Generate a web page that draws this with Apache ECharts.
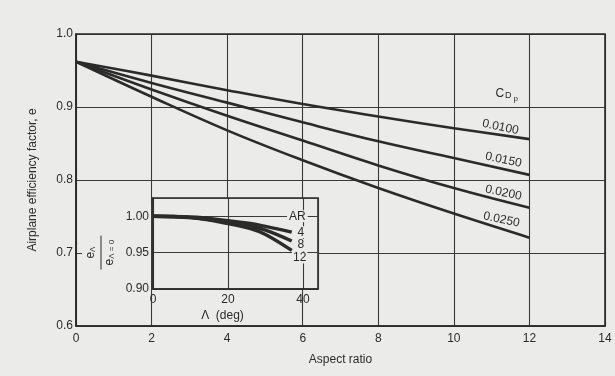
<!DOCTYPE html>
<html>
<head>
<meta charset="utf-8">
<script src="https://cdn.jsdelivr.net/npm/echarts@6/dist/echarts.min.js"></script>
<style>
  html, body { margin: 0; padding: 0; background: #ebebea; }
  #chart { width: 615px; height: 376px; }
</style>
</head>
<body>
<div id="chart"></div>
<script>
// main chart: efficiency factor vs aspect ratio, one line per CDp
const aspectRatio = [0, 2, 4, 6, 8, 10, 12];
const cdpNames = ['0.0100', '0.0150', '0.0200', '0.0250'];
const e0100 = [0.962, 0.943, 0.923, 0.904, 0.887, 0.871, 0.856];
const e0150 = [0.962, 0.933, 0.906, 0.879, 0.853, 0.830, 0.807];
const e0200 = [0.962, 0.924, 0.888, 0.854, 0.820, 0.789, 0.762];
const e0250 = [0.962, 0.914, 0.868, 0.827, 0.789, 0.754, 0.721];

// inset: e(sweep)/e(sweep=0) vs sweep angle, one curve per AR
const sweepDeg = [0, 10, 20, 26, 30, 37];
const arNames = ['4', '8', '12'];
const ratioAR4 = [1.000, 0.999, 0.994, 0.990, 0.986, 0.978];
const ratioAR8 = [1.000, 0.998, 0.992, 0.986, 0.981, 0.966];
const ratioAR12 = [1.000, 0.998, 0.990, 0.983, 0.975, 0.953];
const insetYLabels = ['0.90', '0.95', '1.00'];

const ink = '#2b2b2b';
const bg = '#ebebea';
const font = 'Liberation Sans';

function pairs(xs, ys) {
  return xs.map((x, i) => [x, ys[i]]);
}

const chart = echarts.init(document.getElementById('chart'));

const mainSeries = [e0100, e0150, e0200, e0250].map((ys, i) => ({
  name: cdpNames[i],
  type: 'line',
  xAxisIndex: 0,
  yAxisIndex: 0,
  showSymbol: false,
  smooth: 0.4,
  z: 3,
  lineStyle: { color: ink, width: 2.6 },
  data: pairs(aspectRatio, ys)
}));

const insetSeries = [ratioAR4, ratioAR8, ratioAR12].map((ys, i) => ({
  name: 'AR ' + arNames[i],
  type: 'line',
  xAxisIndex: 1,
  yAxisIndex: 1,
  showSymbol: false,
  smooth: 0.4,
  z: 12,
  lineStyle: { color: ink, width: 3.4 },
  data: pairs(sweepDeg, ys)
}));

chart.setOption({
  backgroundColor: bg,
  animation: false,
  textStyle: { fontFamily: font, color: ink },
  grid: [
    { left: 76, right: 10, top: 34, bottom: 50, show: true, borderColor: ink, borderWidth: 1.6, z: 1 },
    { left: 153, right: 297, top: 198, bottom: 87, show: true, backgroundColor: bg, borderColor: ink, borderWidth: 1.6, z: 10 }
  ],
  xAxis: [
    {
      gridIndex: 0, type: 'value', min: 0, max: 14, interval: 2,
      name: 'Aspect ratio', nameLocation: 'middle', nameGap: 28,
      nameTextStyle: { fontSize: 12, color: ink, fontFamily: font },
      axisLine: { lineStyle: { color: ink, width: 1.6 } },
      axisTick: { show: false },
      axisLabel: { fontSize: 12, color: ink, margin: 7, fontFamily: font },
      splitLine: { lineStyle: { color: '#3a3a3a', width: 1.1 } }
    },
    {
      gridIndex: 1, type: 'value', min: 0, max: 44, interval: 20, z: 11,
      name: 'Λ  (deg)', nameLocation: 'middle', nameGap: 21,
      nameTextStyle: { fontSize: 12, color: ink, fontFamily: font, padding: [0, 26, 0, 0] },
      axisLine: { lineStyle: { color: ink, width: 1.6 } },
      axisTick: { show: false },
      axisLabel: { fontSize: 12, color: ink, margin: 5, fontFamily: font, showMaxLabel: false },
      splitLine: { lineStyle: { color: '#3a3a3a', width: 1.1 } }
    }
  ],
  yAxis: [
    {
      gridIndex: 0, type: 'value', min: 0.6, max: 1.0, interval: 0.1,
      name: 'Airplane efficiency factor, e', nameLocation: 'middle', nameGap: 37,
      nameTextStyle: { fontSize: 12, color: ink, fontFamily: font },
      axisLine: { lineStyle: { color: ink, width: 1.6 } },
      axisTick: { show: false },
      axisLabel: { fontSize: 12, color: ink, margin: 3, fontFamily: font, formatter: v => v.toFixed(1) },
      splitLine: { lineStyle: { color: '#3a3a3a', width: 1.1 } }
    },
    {
      gridIndex: 1, type: 'value', min: 0.9, max: 1.025, interval: 0.05, z: 11,
      axisLine: { lineStyle: { color: ink, width: 1.6 } },
      axisTick: { show: false },
      axisLabel: {
        fontSize: 12, color: ink, margin: 4, fontFamily: font, showMaxLabel: false,
        formatter: v => insetYLabels.find(s => Math.abs(parseFloat(s) - v) < 1e-6) || ''
      },
      splitLine: { lineStyle: { color: '#3a3a3a', width: 1.1 } }
    }
  ],
  series: mainSeries.concat(insetSeries)
});

const g = [];

// the inset's label area hides the main grid behind it
const insetTL = chart.convertToPixel({ gridIndex: 1 }, [0, 1.025]);
const insetBR = chart.convertToPixel({ gridIndex: 1 }, [44, 0.9]);
const mainBL = chart.convertToPixel({ gridIndex: 0 }, [0, 0.6]);
g.push({
  type: 'rect', z: 5,
  shape: { x: mainBL[0] + 6, y: insetTL[1] + 6, width: insetTL[0] - mainBL[0] - 8, height: insetBR[1] - insetTL[1] + 8 },
  style: { fill: bg }
});
g.push({
  type: 'rect', z: 5,
  shape: { x: insetTL[0] + 2, y: insetBR[1] + 1, width: insetBR[0] - insetTL[0] - 22, height: mainBL[1] - insetBR[1] - 2 },
  style: { fill: bg }
});

// CDp labels along the line ends
const mainEnds = [e0100, e0150, e0200, e0250];
const labelShift = [[-29, -12], [-26, -15], [-26, -15], [-28, -18]];
mainEnds.forEach((ys, i) => {
  const p = chart.convertToPixel({ gridIndex: 0 }, [aspectRatio[aspectRatio.length - 1], ys[ys.length - 1]]);
  g.push({
    type: 'text', x: p[0] + labelShift[i][0], y: p[1] + labelShift[i][1], rotation: -12 * Math.PI / 180, z: 20,
    style: { text: cdpNames[i], fontSize: 12, fontFamily: font, fill: ink, align: 'center', verticalAlign: 'middle' }
  });
});

const cdpPos = chart.convertToPixel({ gridIndex: 0 }, [11.4, 0.918]);
g.push({
  type: 'text', x: cdpPos[0], y: cdpPos[1], z: 20,
  style: {
    text: '{a|C}{b|D}{c|p}', align: 'center', verticalAlign: 'middle',
    rich: {
      a: { fontSize: 12, fontFamily: font, fill: ink },
      b: { fontSize: 9, fontFamily: font, fill: ink, padding: [4, 0, 0, 1] },
      c: { fontSize: 8, fontFamily: font, fill: ink, padding: [10, 0, 0, 2] }
    }
  }
});

// inset AR labels
const arTag = chart.convertToPixel({ gridIndex: 1 }, [38.5, 1.0]);
g.push({
  type: 'text', x: arTag[0], y: arTag[1], z: 30,
  style: { text: 'AR', fontSize: 12, fontFamily: font, fill: ink, align: 'center', verticalAlign: 'middle', backgroundColor: bg, padding: [0, 2] }
});
const insetEnds = [ratioAR4, ratioAR8, ratioAR12];
const arShift = [[9, 0], [9, 4], [8, 7]];
insetEnds.forEach((ys, i) => {
  const p = chart.convertToPixel({ gridIndex: 1 }, [sweepDeg[sweepDeg.length - 1], ys[ys.length - 1]]);
  g.push({
    type: 'text', x: p[0] + arShift[i][0], y: p[1] + arShift[i][1], z: 30,
    style: { text: arNames[i], fontSize: 12, fontFamily: font, fill: ink, align: 'center', verticalAlign: 'middle', backgroundColor: bg, padding: [0, 1] }
  });
});

// inset y-axis label: e_Λ / e_Λ=0, rotated
const fracPos = chart.convertToPixel({ gridIndex: 1 }, [0, 0.95]);
const fracRich = { e: { fontSize: 12, fontFamily: font, fill: ink }, s: { fontSize: 8, fontFamily: font, fill: ink, padding: [4, 0, 0, 0] } };
g.push({
  type: 'group', x: fracPos[0] - 50, y: fracPos[1], rotation: Math.PI / 2, z: 30,
  children: [
    { type: 'text', x: 0, y: -6, z: 30, style: { text: '{e|e}{s|Λ}', align: 'center', verticalAlign: 'bottom', rich: fracRich } },
    { type: 'line', z: 30, shape: { x1: -17, y1: -2, x2: 17, y2: -2 }, style: { stroke: ink, lineWidth: 1 } },
    { type: 'text', x: 0, y: 1, z: 30, style: { text: '{e|e}{s|Λ = 0}', align: 'center', verticalAlign: 'top', rich: fracRich } }
  ]
});

chart.setOption({ graphic: g });
</script>
</body>
</html>
